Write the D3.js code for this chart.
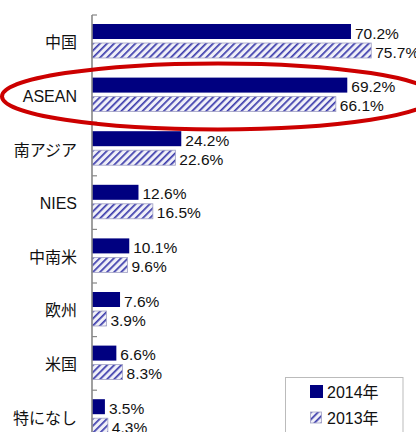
<!DOCTYPE html>
<html><head><meta charset="utf-8">
<script src="https://cdn.jsdelivr.net/npm/d3@7"></script>
<style>
html,body{margin:0;padding:0;background:#fff;}
svg{display:block;}
text{font-family:"Liberation Sans","Noto Sans CJK JP",sans-serif;}
</style></head>
<body>
<script>
const categories = ["中国","ASEAN","南アジア","NIES","中南米","欧州","米国","特になし"];
const series = ["2014年","2013年"];
const values2014 = [70.2, 69.2, 24.2, 12.6, 10.1, 7.6, 6.6, 3.5];
const values2013 = [75.7, 66.1, 22.6, 16.5, 9.6, 3.9, 8.3, 4.3];

const W = 416, H = 432;
const svg = d3.select("body").append("svg").attr("width", W).attr("height", H);
const defs = svg.append("defs");
const pat = defs.append("pattern").attr("id","hatch").attr("patternUnits","userSpaceOnUse")
  .attr("width",5).attr("height",5).attr("patternTransform","rotate(45)");
pat.append("rect").attr("width",5).attr("height",5).attr("fill","#f0f0f8");
pat.append("rect").attr("x",0).attr("y",0).attr("width",1.7).attr("height",5).attr("fill","#3c3cac");

const x = d3.scaleLinear().domain([0,100]).range([92, 92+368.9]);
const y = d3.scaleBand().domain(categories).range([15, 15+8*53.6]).paddingInner(0).paddingOuter(0);
const ys = d3.scaleBand().domain(series).range([9, 43]).paddingInner(4/19).paddingOuter(0);

const data = categories.map((c,i)=>({cat:c, vals:[{s:series[0],v:values2014[i]},{s:series[1],v:values2013[i]}]}));

const g = svg.append("g");
const groups = g.selectAll("g.cat").data(data).join("g").attr("class","cat")
  .attr("transform", d=>`translate(0,${y(d.cat)})`);

groups.selectAll("rect").data(d=>d.vals).join("rect")
  .attr("x", x(0))
  .attr("y", d=>ys(d.s))
  .attr("width", d=>x(d.v)-x(0))
  .attr("height", ys.bandwidth())
  .attr("fill", d=>d.s===series[0] ? "#000080" : "url(#hatch)")
  .attr("stroke", d=>d.s===series[0] ? "none" : "#a0a0c4")
  .attr("stroke-width", 0.8);

groups.selectAll("text.val").data(d=>d.vals).join("text").attr("class","val")
  .attr("x", d=>x(d.v)+4)
  .attr("y", d=>ys(d.s)+ys.bandwidth()/2+1.5)
  .attr("dominant-baseline","central")
  .attr("font-size", 15.5)
  .attr("fill","#111")
  .text(d=>d.v.toFixed(1)+"%");

// category axis
const ag = svg.append("g").attr("transform",`translate(${x(0)},0)`);
ag.append("line").attr("x1",0).attr("x2",0).attr("y1",15).attr("y2",H+10)
  .attr("stroke","#888").attr("stroke-width",1.6);
const tickYs = categories.map(c=>y(c));
ag.selectAll("line.tick").data(tickYs).join("line").attr("class","tick")
  .attr("x1",0).attr("x2",5).attr("y1",d=>d).attr("y2",d=>d)
  .attr("stroke","#888").attr("stroke-width",1.2);

svg.append("g").selectAll("text.cat").data(categories).join("text").attr("class","cat")
  .attr("x", 77)
  .attr("y", d=>y(d)+y.bandwidth()/2+1)
  .attr("text-anchor","end")
  .attr("dominant-baseline","central")
  .attr("font-size", 16)
  .attr("fill","#111")
  .text(d=>d);

// annotation ellipse around ASEAN
const cy = y("ASEAN") + y.bandwidth()/2 + 1;
svg.append("ellipse").attr("cx", 218).attr("cy", cy).attr("rx", 216).attr("ry", 33)
  .attr("fill","none").attr("stroke","#cc0000").attr("stroke-width",4);

// legend
const lg = svg.append("g");
lg.append("rect").attr("x",285.5).attr("y",377.5).attr("width",117.5).attr("height",70)
  .attr("fill","#fff").attr("stroke","#bbb").attr("stroke-width",1);
const items = lg.selectAll("g.li").data(series).join("g").attr("class","li")
  .attr("transform",(d,i)=>`translate(310,${i===0?385:412})`);
items.append("rect").attr("x",(d,i)=>i===0?0:0.5).attr("y",0)
  .attr("width",(d,i)=>i===0?13:11).attr("height",(d,i)=>i===0?13:11)
  .attr("fill",(d,i)=>i===0?"#000080":"url(#hatch)")
  .attr("stroke",(d,i)=>i===0?"none":"#a0a0c4").attr("stroke-width",0.8);
items.append("text").attr("x",17).attr("y",(d,i)=>i===0?7.5:6.5)
  .attr("dominant-baseline","central").attr("font-size",16).attr("fill","#111")
  .text(d=>d);
</script>
</body></html>
